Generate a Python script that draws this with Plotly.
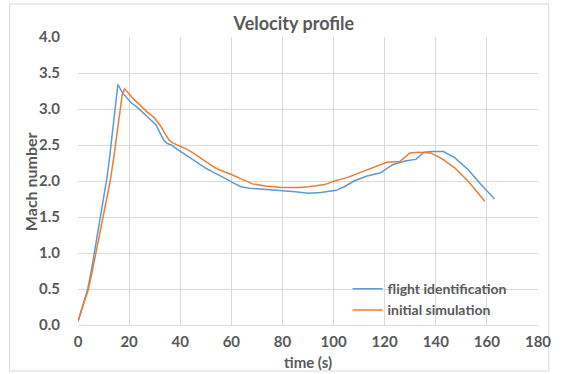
import plotly.graph_objects as go

# flight identification (blue)
fi_t = [0, 2, 3.8, 5.2, 6.4, 7.7, 8.9, 10.2, 11.5, 12.6, 13.6, 14.5, 15.6,
        17.5, 19.6, 21, 23, 24.7, 27, 29, 30.5, 32, 33.5, 35, 36.5, 38, 40.1,
        42.5, 45.2, 47.5, 50.4, 53, 55.5, 58, 60.3, 63.8, 67, 70.9, 75, 80.1,
        85, 90.2, 95, 101, 104.2, 108, 113.1, 118.2, 120.5, 123.3, 128.4, 132.2,
        135.4, 138.6, 143, 147.5, 152.6, 157.7, 163]
fi_m = [0.05, 0.28, 0.5, 0.75, 1.0, 1.25, 1.5, 1.78, 2.08, 2.4, 2.72, 3.03, 3.34,
        3.22, 3.13, 3.08, 3.03, 2.97, 2.9, 2.83, 2.78, 2.68, 2.57, 2.52, 2.5, 2.46, 2.41,
        2.35, 2.29, 2.23, 2.17, 2.12, 2.08, 2.03, 1.98, 1.92, 1.9, 1.89, 1.87, 1.86,
        1.85, 1.83, 1.84, 1.87, 1.92, 2.0, 2.07, 2.11, 2.16, 2.23, 2.28, 2.30,
        2.40, 2.41, 2.41, 2.32, 2.16, 1.95, 1.75]

# initial simulation (orange)
is_t = [0, 2, 4.1, 5.6, 7, 8.5, 9.9, 11.3, 12.6, 14.1, 15.3, 16.4, 17.3, 18.2,
        19.6, 22, 24.7, 27, 29.8, 31, 32.4, 34, 35.6, 37, 38.8, 42.7, 45, 47.8,
        50, 52.9, 55, 58.1, 60, 63.2, 66, 68.3, 73.4, 79.8, 86.2, 90.2, 96.5,
        100.4, 105.5, 110.6, 115.7, 120.8, 125.9, 129.9, 133.5, 137.9, 142.4,
        147.5, 152.6, 159.2]
is_m = [0.05, 0.27, 0.5, 0.75, 1.0, 1.25, 1.5, 1.75, 2.0, 2.35, 2.7, 3.02, 3.2, 3.28,
        3.22, 3.13, 3.04, 2.96, 2.88, 2.82, 2.76, 2.66, 2.57, 2.53, 2.50, 2.44, 2.39, 2.32,
        2.27, 2.2, 2.16, 2.12, 2.09, 2.04, 1.99, 1.96, 1.93, 1.91, 1.91, 1.92, 1.95,
        2.0, 2.05, 2.12, 2.2, 2.26, 2.27, 2.39, 2.40, 2.39, 2.31,
        2.18, 2.0, 1.72]

x_ticks = [0, 20, 40, 60, 80, 100, 120, 140, 160, 180]
y_ticks = [0.0, 0.5, 1.0, 1.5, 2.0, 2.5, 3.0, 3.5, 4.0]

FONT = "Lato"
GRAY = "#595959"
GRID = "#D9D9D9"

fig = go.Figure()
fig.add_trace(go.Scatter(x=fi_t, y=fi_m, mode="lines", name="flight identification",
                         line=dict(color="#5B9BD5", width=1.5)))
fig.add_trace(go.Scatter(x=is_t, y=is_m, mode="lines", name="initial simulation",
                         line=dict(color="#ED7D31", width=1.5)))

tickfont = dict(size=15, color=GRAY, family=FONT, weight="bold")

fig.update_layout(
    width=563, height=374,
    margin=dict(l=78, r=14, t=37, b=49),
    paper_bgcolor="white", plot_bgcolor="white",
    font=dict(family=FONT, color=GRAY, size=14),
    title=dict(text="Velocity profile", x=0.522, xref="container", xanchor="center",
               y=1 - 24 / 374, yref="container", yanchor="middle",
               font=dict(size=18, color=GRAY, family=FONT, weight="bold")),
    showlegend=True,
    legend=dict(x=0.586, y=0.18, xanchor="left", yanchor="top",
                bgcolor="rgba(0,0,0,0)",
                font=dict(size=14, color=GRAY, family=FONT, weight="bold"),
                itemwidth=30, tracegroupgap=0),
    xaxis=dict(range=[0, 180], tickvals=x_ticks, ticktext=[str(v) for v in x_ticks],
               showgrid=True, gridcolor=GRID, gridwidth=1, zeroline=False,
               showline=True, linecolor=GRID, linewidth=1,
               ticks="outside", ticklen=3, tickcolor="rgba(0,0,0,0)",
               tickfont=tickfont),
    yaxis=dict(range=[0, 4.0], tickvals=y_ticks, ticktext=[f"{v:.1f}" for v in y_ticks],
               showgrid=True, gridcolor=GRID, gridwidth=1, zeroline=False,
               showline=False,
               ticks="outside", ticklen=14, tickcolor="rgba(0,0,0,0)",
               tickfont=tickfont),
)

# axis titles
fig.add_annotation(text="time (s)", xref="paper", yref="paper",
                   x=(314 - 78) / 471, y=(325 - 362) / 288, showarrow=False,
                   xanchor="center", yanchor="middle",
                   font=dict(size=15, color=GRAY, family=FONT, weight="bold"))
fig.add_annotation(text="Mach number", xref="paper", yref="paper",
                   x=(29 - 78) / 471, y=(325 - 182) / 288, showarrow=False, textangle=-90,
                   xanchor="center", yanchor="middle",
                   font=dict(size=16, color=GRAY, family=FONT, weight="bold"))

# chart area border
fig.add_shape(type="rect", xref="paper", yref="paper",
              x0=(8 - 78) / 471, x1=(560 - 78) / 471,
              y0=(325 - 371) / 288, y1=(325 - 4) / 288,
              line=dict(color=GRID, width=1), fillcolor="rgba(0,0,0,0)", layer="below")

fig.write_html("out.html")
